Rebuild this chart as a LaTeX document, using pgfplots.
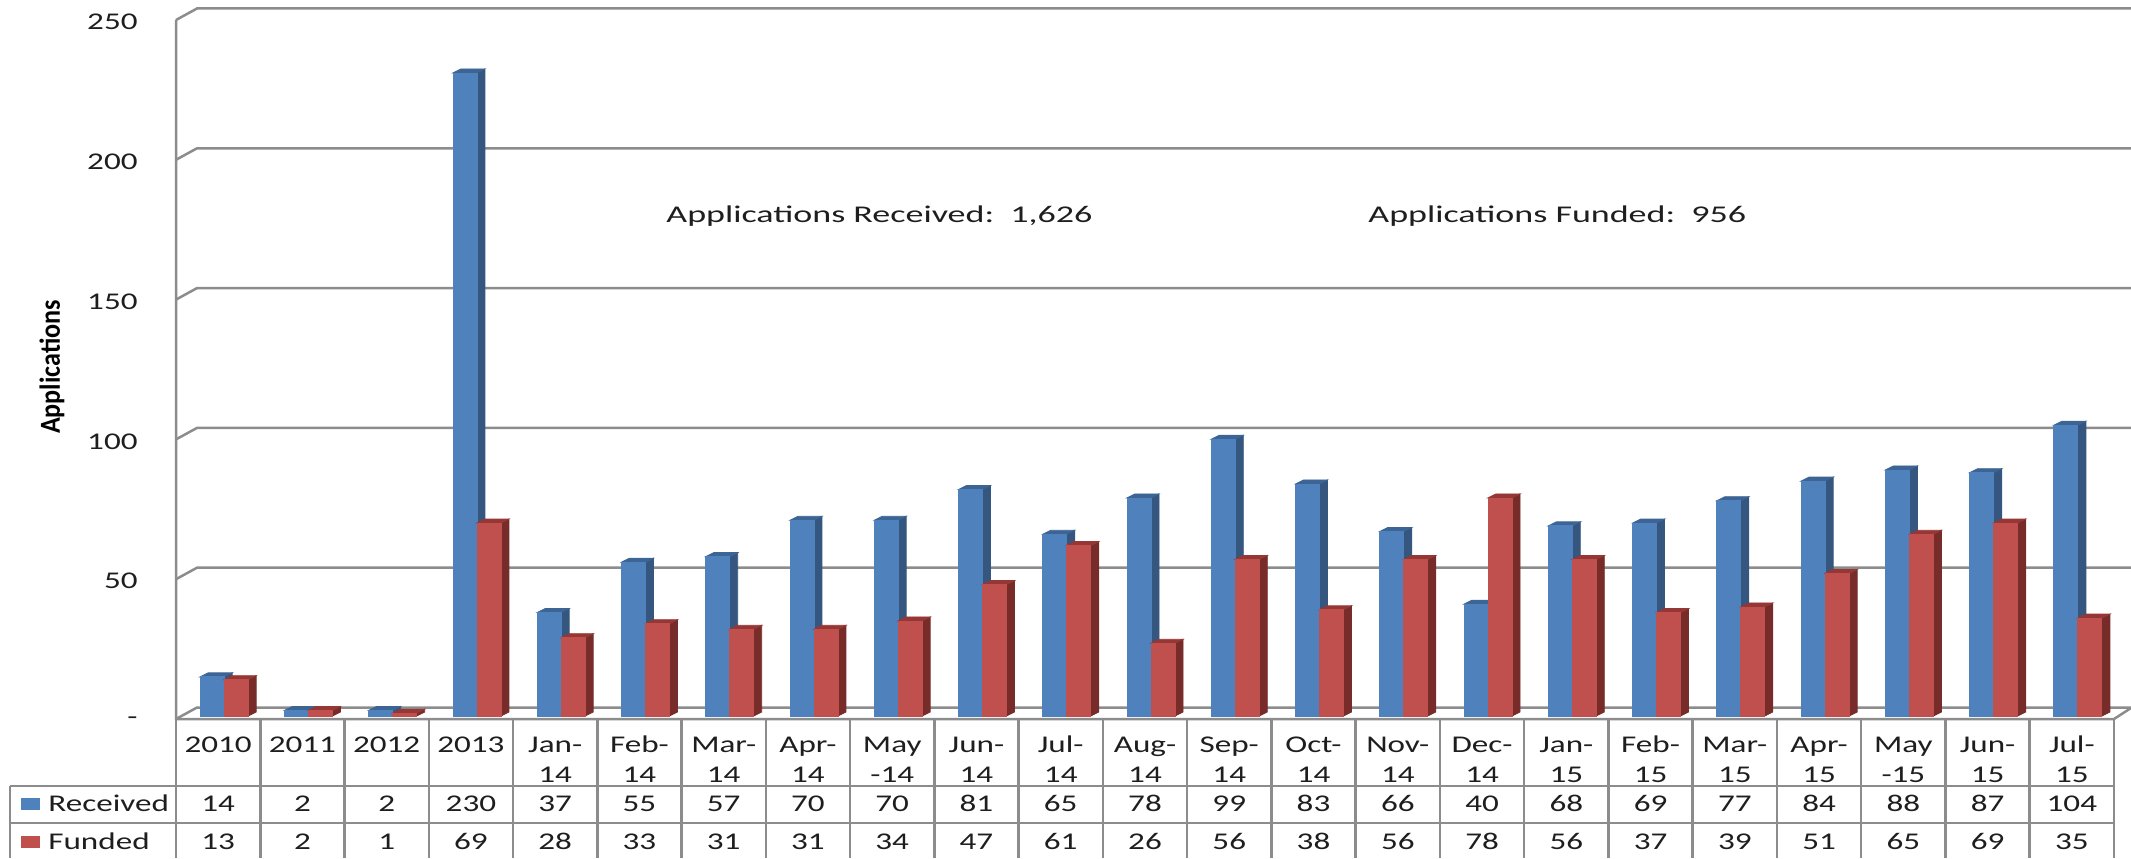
\documentclass[border=0pt]{standalone}
\usepackage{fontspec}
\usepackage{pgfplots}
\usepackage{pgfplotstable}
\pgfplotsset{compat=1.18}
\setmainfont[FakeStretch=1.38]{Carlito}
\newfontfamily\annfont[FakeStretch=1.5]{Carlito}
\newfontfamily\labfont[FakeStretch=0.9]{Carlito}
\definecolor{bfront}{HTML}{4F81BD}
\definecolor{rfront}{HTML}{C0504D}
\definecolor{bside}{HTML}{34567F}
\definecolor{rside}{HTML}{772C2A}
\definecolor{btop}{HTML}{3C6494}
\definecolor{rtop}{HTML}{953735}
\definecolor{gridc}{HTML}{8C8C8C}
\definecolor{txt}{HTML}{1E1E1E}
\pgfplotstableread{
x r f
0 14 13
1 2 2
2 2 1
3 230 69
4 37 28
5 55 33
6 57 31
7 70 31
8 70 34
9 81 47
10 65 61
11 78 26
12 99 56
13 83 38
14 66 56
15 40 78
16 68 56
17 69 37
18 77 39
19 84 51
20 88 65
21 87 69
22 104 35
}\datatable
\newdimen\facedim
% one 3D bar, drawn from the data point at the front top of the category:
% #1 right edge of the front (in pt), #2 front, #3 side, #4 top colour
\newcommand{\faces}[4]{%
  \pgfkeys{/pgf/fpu=false}%
  \pgfmathparse{1.398*\hh}\facedim=\pgfmathresult pt\relax
  \edef\facelow{\the\facedim}%
  \advance\facedim by -2pt\relax
  \edef\facehigh{\the\facedim}%
  \edef\xa{\the\dimexpr #1pt\relax}%
  \edef\xb{\the\dimexpr #1pt+4pt\relax}%
  \edef\xc{\the\dimexpr #1pt-12pt\relax}%
  \edef\xd{\the\dimexpr #1pt-8pt\relax}%
  \fill[#3] (\xa,0pt) -- (\xb,2pt) -- (\xb,-\facehigh) -- (\xa,-\facelow) -- cycle;
  \fill[#4] (\xc,0pt) -- (\xd,2pt) -- (\xb,2pt) -- (\xa,0pt) -- cycle;
  \fill[#2] (\xc,0pt) rectangle (\xa,-\facelow);
}
\begin{document}
\begin{tikzpicture}
\useasboundingbox (0,0) rectangle (1065.5pt,429pt);
\clip (0,0) rectangle (1065.5pt,429pt);
\begin{axis}[
  at={(88pt,69.5pt)}, anchor=south west,
  scale only axis, width=969pt, height=349.5pt,
  xmin=-0.5, xmax=22.5, ymin=0, ymax=250,
  clip=false,
  axis line style={draw=none},
  tick style={draw=none},
  major tick length=0pt,
  xtick={0,...,22},
  xticklabels={
    {\rule{0pt}{9pt}2010},{\rule{0pt}{9pt}2011},{\rule{0pt}{9pt}2012},{\rule{0pt}{9pt}2013},
    {\rule{0pt}{9pt}Jan-\\14},{\rule{0pt}{9pt}Feb-\\14},{\rule{0pt}{9pt}Mar-\\14},{\rule{0pt}{9pt}Apr-\\14},
    {\rule{0pt}{9pt}May\\-14},{\rule{0pt}{9pt}Jun-\\14},{\rule{0pt}{9pt}Jul-\\14},{\rule{0pt}{9pt}Aug-\\14},
    {\rule{0pt}{9pt}Sep-\\14},{\rule{0pt}{9pt}Oct-\\14},{\rule{0pt}{9pt}Nov-\\14},{\rule{0pt}{9pt}Dec-\\14},
    {\rule{0pt}{9pt}Jan-\\15},{\rule{0pt}{9pt}Feb-\\15},{\rule{0pt}{9pt}Mar-\\15},{\rule{0pt}{9pt}Apr-\\15},
    {\rule{0pt}{9pt}May\\-15},{\rule{0pt}{9pt}Jun-\\15},{\rule{0pt}{9pt}Jul-\\15}},
  xticklabel style={align=center, anchor=north, inner sep=0pt, yshift=-7.5pt,
    font=\fontsize{12}{15}\selectfont, text=txt},
  ytick={0,50,100,150,200,250},
  yticklabels={{-\hspace{17pt}},50,100,150,200,250},
  yticklabel style={anchor=east, inner sep=0pt, xshift=-19pt, yshift=-1pt,
    font=\fontsize{12}{15}\selectfont, text=txt},
  ylabel={\labfont\bfseries Applications},
  every axis y label/.style={at={(axis description cs:-0.064,0.5036)},rotate=90,anchor=center,
    font=\fontsize{14.5}{16}\selectfont, text=black},
]
\pgfplotsinvokeforeach{0,50,100,150,200,250}{
  \draw[gridc, line width=1.25pt] (axis cs:-0.5,#1) -- ++(10.5pt,5.75pt) -- ++(970pt,0pt);
}
\draw[gridc, line width=1.25pt] (axis cs:-0.5,250) -- (axis cs:-0.5,0) -- (axis cs:22.5,0) -- ++(8.5pt,5.5pt);
% Received
\addplot[only marks, scatter, mark=*, mark size=0pt, yshift=1.5pt,
  visualization depends on={rawy \as \hh},
  scatter/@pre marker code/.code={\begingroup\faces{3}{bfront}{bside}{btop}},
  scatter/@post marker code/.code={\endgroup}]
  table[x=x,y=r] {\datatable};
% Funded
\addplot[only marks, scatter, mark=*, mark size=0pt, yshift=1.5pt,
  visualization depends on={rawy \as \hh},
  scatter/@pre marker code/.code={\begingroup\faces{15}{rfront}{rside}{rtop}},
  scatter/@post marker code/.code={\endgroup}]
  table[x=x,y=f] {\datatable};
\end{axis}
\begin{scope}[x=0.5pt,y=-0.5pt,yshift=429pt]
  \foreach \i in {0,...,23}{
    \draw[gridc, line width=1.25pt] ({176+84.26*\i},719) -- ({176+84.26*\i},858);
  }
  \draw[gridc, line width=1.25pt] (10,786) -- (2114,786);
  \draw[gridc, line width=1.25pt] (10,823) -- (2114,823);
  \draw[gridc, line width=1.25pt] (10,786) -- (10,858);
  \fill[bfront] (21,798) rectangle (40,810);
  \fill[rfront] (21,836) rectangle (40,848);
  \tikzset{tc/.style={anchor=base, inner sep=0pt, text=txt, font=\fontsize{12}{15}\selectfont}}
  \node[tc, anchor=base west] at (48,811.5) {Received};
  \node[tc, anchor=base west] at (48,849.5) {Funded};
  \foreach \v [count=\i from 0] in {14,2,2,230,37,55,57,70,70,81,65,78,99,83,66,40,68,69,77,84,88,87,104}{
    \node[tc] at ({176+84.26*(\i+.5)},811.5) {\v};
  }
  \foreach \v [count=\i from 0] in {13,2,1,69,28,33,31,31,34,47,61,26,56,38,56,78,56,37,39,51,65,69,35}{
    \node[tc] at ({176+84.26*(\i+.5)},849.5) {\v};
  }
  \node[tc, anchor=base west, font=\annfont\fontsize{12}{15}\selectfont] at (666,222.5) {Applications Received:\ \ 1,626};
  \node[tc, anchor=base west, font=\annfont\fontsize{12}{15}\selectfont] at (1368,222.5) {Applications Funded:\ \ 956};
\end{scope}
\end{tikzpicture}
\end{document}
